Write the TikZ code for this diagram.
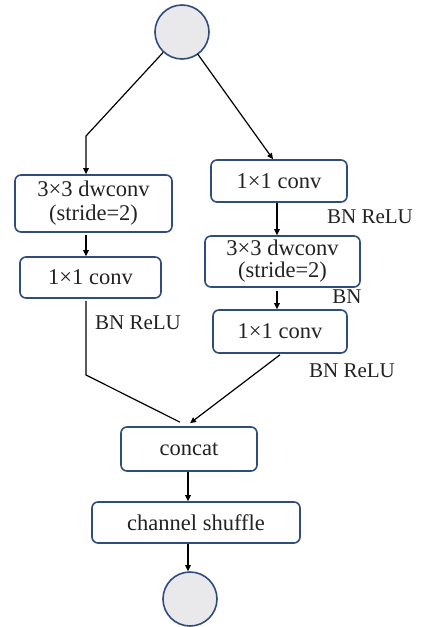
\documentclass[tikz,border=0pt]{standalone}
\usepackage{fontspec}
\setmainfont{Liberation Serif}
\usetikzlibrary{arrows.meta,calc}
\definecolor{boxblue}{HTML}{2F4C7E}
\definecolor{dotfill}{HTML}{E9E9EC}
\definecolor{ink}{HTML}{222222}
\begin{document}
\begin{tikzpicture}[x=1pt,y=-1pt,
  every node/.style={font=\fontsize{22.5}{25}\selectfont,text=ink},
  opbox/.style={draw=boxblue,line width=1.6pt,rounded corners=6pt,fill=white,align=center,inner sep=0pt},
  dot/.style={circle,draw=boxblue,line width=1.6pt,fill=dotfill,minimum size=54pt,inner sep=0pt},
  conn/.style={black,line width=1.2pt},
  arr/.style={conn,-{Triangle[length=6pt,width=5.5pt]}},
  note/.style={inner sep=0pt,font=\fontsize{21}{23}\selectfont}]
\useasboundingbox (0,0) rectangle (421,627);

% input and output tensors
\node[dot] (in) at (182,32) {};
\node[dot] (out) at (190,599) {};

% left branch
\node[opbox,minimum width=157pt,minimum height=57pt] (l1) at (93.5,203.5) {3×3 dwconv\\[-1pt](stride=2)};
\node[opbox,minimum width=141pt,minimum height=41pt] (l2) at (90.5,277.5) {1×1 conv};
\node[note] (lbn) at (138,323) {BN ReLU};

% right branch
\node[opbox,minimum width=136pt,minimum height=42pt] (r1) at (279,181) {1×1 conv};
\node[note] (rbn1) at (370,217) {BN ReLU};
\node[opbox,minimum width=155pt,minimum height=51pt] (r2) at (282.5,261.5) {3×3 dwconv\\[-3pt](stride=2)};
\node[note] (rbn2) at (347,297) {BN};
\node[opbox,minimum width=134pt,minimum height=43pt] (r3) at (280,331.5) {1×1 conv};
\node[note] (rbn3) at (352,371) {BN ReLU};

% merge
\node[opbox,minimum width=136pt,minimum height=44pt] (cat) at (189,449) {concat};
\node[opbox,minimum width=208pt,minimum height=41pt] (shuf) at (196,522.5) {channel shuffle};

% connector bends
\coordinate (lbend) at (86,136);
\coordinate (ldrop) at (86,375);

\draw[arr] (in) -- (lbend) -- (lbend |- l1.north);
\draw[arr] ($(in)!27pt!(273,160)$) -- ($(r1.north)+(-6,0)$);
\draw[arr] (86,232) ++(0,3) coordinate (a1) (a1) -- (a1 |- l2.north);
\draw[arr] ($(r1.south)+(-2,0)$) -- ($(r2.north)+(-5.5,0)$);
\draw[arr] ($(r2.south)+(-5.5,3)$) -- ($(r3.north)+(-3,0)$);
\draw[conn] ($(l2.south)+(-4.5,2)$) -- (ldrop) -- ($(cat.north)+(-9,-4)$);
\draw[arr] ($(r3.south)+(0,1)$) -- ($(cat.north)+(1,-3)$);
\draw[arr] ($(cat.south)+(-1,0)$) -- ($(shuf.north)+(-8,0)$);
\draw[arr] ($(shuf.south)+(-8,0)$) -- ($(out.north)+(-2,0)$);
\end{tikzpicture}
\end{document}
